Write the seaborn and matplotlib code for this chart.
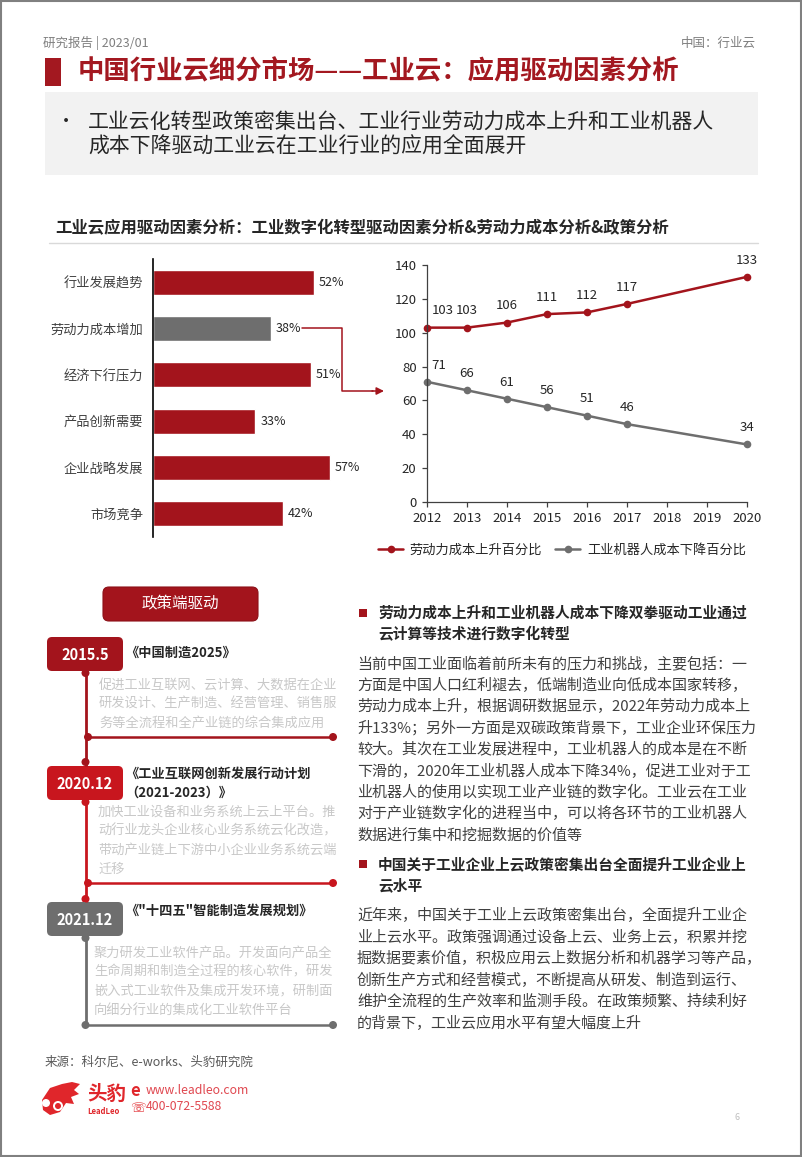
import matplotlib
matplotlib.use('Agg')
import matplotlib.pyplot as plt
import seaborn as sns
import pandas as pd
from matplotlib.patches import FancyBboxPatch, Rectangle, Circle, Polygon

sns.set_theme(style='white')
plt.rcParams['font.family'] = ['Noto Sans CJK SC', 'DejaVu Sans']
plt.rcParams['axes.unicode_minus'] = False

# ---------------- data ----------------
bar_categories = ['行业发展趋势', '劳动力成本增加', '经济下行压力', '产品创新需要', '企业战略发展', '市场竞争']
bar_values = [52, 38, 51, 33, 57, 42]

years = [2012, 2013, 2014, 2015, 2016, 2017, 2020]
labor_cost_rise = [103, 103, 106, 111, 112, 117, 133]
robot_cost_drop = [71, 66, 61, 56, 51, 46, 34]
series_names = ['劳动力成本上升百分比', '工业机器人成本下降百分比']
year_ticks = [2012, 2013, 2014, 2015, 2016, 2017, 2018, 2019, 2020]
value_ticks = [0, 20, 40, 60, 80, 100, 120, 140]

page_title = '中国行业云细分市场——工业云：应用驱动因素分析'
summary_lines = ['工业云化转型政策密集出台、工业行业劳动力成本上升和工业机器人',
                 '成本下降驱动工业云在工业行业的应用全面展开']
chart_title = '工业云应用驱动因素分析：工业数字化转型驱动因素分析&劳动力成本分析&政策分析'

policy_dates = ['2015.5', '2020.12', '2021.12']
policy_titles = [['《中国制造2025》'],
                 ['《工业互联网创新发展行动计划', '（2021-2023）》'],
                 ['《"十四五"智能制造发展规划》']]
policy_desc = [['促进工业互联网、云计算、大数据在企业', '研发设计、生产制造、经营管理、销售服', '务等全流程和全产业链的综合集成应用'],
               ['加快工业设备和业务系统上云上平台。推', '动行业龙头企业核心业务系统云化改造，', '带动产业链上下游中小企业业务系统云端', '迁移'],
               ['聚力研发工业软件产品。开发面向产品全', '生命周期和制造全过程的核心软件，研发', '嵌入式工业软件及集成开发环境，研制面', '向细分行业的集成化工业软件平台']]

heading1 = ['劳动力成本上升和工业机器人成本下降双拳驱动工业通过', '云计算等技术进行数字化转型']
body1 = ['当前中国工业面临着前所未有的压力和挑战，主要包括：一',
         '方面是中国人口红利褪去，低端制造业向低成本国家转移，',
         '劳动力成本上升，根据调研数据显示，2022年劳动力成本上',
         '升133%；另外一方面是双碳政策背景下，工业企业环保压力',
         '较大。其次在工业发展进程中，工业机器人的成本是在不断',
         '下滑的，2020年工业机器人成本下降34%，促进工业对于工',
         '业机器人的使用以实现工业产业链的数字化。工业云在工业',
         '对于产业链数字化的进程当中，可以将各环节的工业机器人',
         '数据进行集中和挖掘数据的价值等']
heading2 = ['中国关于工业企业上云政策密集出台全面提升工业企业上', '云水平']
body2 = ['近年来，中国关于工业上云政策密集出台，全面提升工业企',
         '业上云水平。政策强调通过设备上云、业务上云，积累并挖',
         '掘数据要素价值，积极应用云上数据分析和机器学习等产品，',
         '创新生产方式和经营模式，不断提高从研发、制造到运行、',
         '维护全流程的生产效率和监测手段。在政策频繁、持续利好',
         '的背景下，工业云应用水平有望大幅度上升']

# ---------------- style ----------------
W, H = 802, 1157
RED = '#A3141C'
RED_T = '#A31820'
RED2 = '#C8161E'
GRAY = '#6E6E6E'
LOGO = '#E0262B'
TXT = '#262626'
BODY = '#404040'
LIGHT = '#C8C8C8'

fig = plt.figure(figsize=(W / 100, H / 100), dpi=100)
fig.patch.set_facecolor('white')

ov = fig.add_axes([0, 0, 1, 1])
ov.set_xlim(0, W)
ov.set_ylim(H, 0)
ov.axis('off')


def txt(x, y, s, size, color=TXT, weight='normal', ha='left', **kw):
    ov.text(x, y, s, fontsize=size, color=color, fontweight=weight, ha=ha, va='center', **kw)


# border
ov.add_patch(Rectangle((0.7, 0.7), 800, 1155, fill=False, edgecolor='#808080', lw=1.5))

# header
txt(43, 43, '研究报告 | 2023/01', 9, color='#7f7f7f')
txt(756, 43, '中国：行业云', 9, color='#7f7f7f', ha='right')
ov.add_patch(Rectangle((45, 58), 16, 28, color=RED_T, lw=0))
txt(78, 72, page_title, 19, color=RED_T, weight='bold')
ov.add_patch(Rectangle((45, 92), 713, 83, color='#F2F2F2', lw=0))
txt(57, 122, '•', 13, color=TXT)
for i, line in enumerate(summary_lines):
    txt(88, 123 + i * 24, line, 15, color=TXT)

# chart title
txt(55, 228, chart_title, 11.8, color=TXT, weight='bold')
ov.plot([49, 758], [243, 243], color='#D9D9D9', lw=1)

# ---------------- bar chart ----------------
bax = fig.add_axes([153 / W, 1 - 537 / H, 217 / W, 278 / H])
bdf = pd.DataFrame({'cat': bar_categories, 'val': bar_values})
bar_colors = [GRAY if c == '劳动力成本增加' else RED for c in bar_categories]
sns.barplot(data=bdf, x='val', y='cat', hue='cat', palette=bar_colors, orient='h',
            width=0.54, saturation=1, legend=False, ax=bax)
bax.set_xlim(0, 70)
bax.set_ylim(5.5, -0.5)
bax.set_facecolor('none')
for s in ['top', 'right', 'bottom']:
    bax.spines[s].set_visible(False)
bax.spines['left'].set_color('#000000')
bax.spines['left'].set_linewidth(1.2)
bax.set_xticks([])
bax.set_xlabel('')
bax.set_ylabel('')
bax.tick_params(axis='y', length=0, pad=7, labelsize=9.5, labelcolor=BODY)
for c in bax.containers:
    bax.bar_label(c, fmt='%g%%', padding=3.5, fontsize=9, color=TXT)

# connector arrow
ov.plot([302, 342, 342, 373], [328, 328, 391, 391], color=RED, lw=1.1)
ov.annotate('', xy=(384, 391), xytext=(372, 391),
            arrowprops=dict(arrowstyle='-|>', color=RED, lw=1.1, mutation_scale=11,
                            shrinkA=0, shrinkB=0))

# ---------------- line chart ----------------
lax = fig.add_axes([427 / W, 1 - 502 / H, 320 / W, 237 / H])
ldf = pd.DataFrame({'year': years * 2,
                    'value': labor_cost_rise + robot_cost_drop,
                    'series': [series_names[0]] * len(years) + [series_names[1]] * len(years)})
sns.lineplot(data=ldf, x='year', y='value', hue='series', palette=[RED, GRAY],
             marker='o', markersize=5.5, markeredgewidth=0, linewidth=1.8,
             clip_on=False, ax=lax)
lax.set_xlim(2012, 2020)
lax.set_ylim(0, 140)
lax.set_xticks(year_ticks)
lax.set_yticks(value_ticks)
lax.set_xlabel('')
lax.set_ylabel('')
lax.set_facecolor('none')
for s in ['top', 'right']:
    lax.spines[s].set_visible(False)
for s in ['left', 'bottom']:
    lax.spines[s].set_color('#404040')
    lax.spines[s].set_linewidth(0.9)
lax.tick_params(axis='both', direction='out', length=3.5, width=0.9, color='#404040',
                labelsize=9.5, labelcolor=TXT, left=True, bottom=True)
lax.tick_params(axis='x', pad=4)
lax.tick_params(axis='y', pad=4)

for yr, v in zip(years, labor_cost_rise):
    dx = 11.5 if yr == 2012 else 0
    lax.annotate(str(v), (yr, v), xytext=(dx, 12), textcoords='offset points',
                 ha='center', va='center', fontsize=9.5, color=TXT)
for yr, v in zip(years, robot_cost_drop):
    dx = 8.6 if yr == 2012 else 0
    lax.annotate(str(v), (yr, v), xytext=(dx, 12), textcoords='offset points',
                 ha='center', va='center', fontsize=9.5, color=TXT)

handles, labels = lax.get_legend_handles_labels()
lax.legend(handles, labels, loc='center left', bbox_to_anchor=(378 / W, 1 - 550 / H),
           bbox_transform=fig.transFigure, ncol=2, frameon=False, fontsize=9.5,
           handlelength=1.9, handletextpad=0.5, columnspacing=1.0,
           borderaxespad=0, borderpad=0)

# ---------------- policy timeline ----------------
ov.add_patch(FancyBboxPatch((103, 587), 155, 34, boxstyle='round,pad=0,rounding_size=6',
                            facecolor=RED, edgecolor='#8C1017', lw=0.8))
txt(180.5, 604, '政策端驱动', 11.2, color='white', ha='center')

date_colors = [RED, RED2, GRAY]
box_tops = [637, 766, 902]
title_ys = [[653], [774, 793], [911]]
desc_x = [99, 98, 94]
desc_y0 = [685, 812, 953]
hline_y = [737, 883, 1025]

# vertical connectors
ov.plot([85.5, 85.5], [671, 766], color=RED, lw=2, solid_capstyle='butt')
ov.plot([85.5, 85.5], [799, 902], color=RED2, lw=2, solid_capstyle='butt')
ov.plot([85.5, 85.5], [935, 1025], color=GRAY, lw=2, solid_capstyle='butt')
for y, c in [(673, RED), (762, RED), (802, RED2), (899, RED2), (938, GRAY)]:
    ov.add_patch(Circle((85.5, y), 4, color=c, lw=0))

for i in range(3):
    c = date_colors[i]
    top = box_tops[i]
    ov.add_patch(FancyBboxPatch((47, top), 76, 34, boxstyle='round,pad=0,rounding_size=5',
                                facecolor=c, edgecolor='none'))
    txt(85, top + 18, policy_dates[i], 10.5, color='white', weight='bold', ha='center')
    for t, ty in zip(policy_titles[i], title_ys[i]):
        txt(125, ty, t, 9.5, color=TXT, weight='bold')
    for k, line in enumerate(policy_desc[i]):
        txt(desc_x[i], desc_y0[i] + k * 19.2, line, 9.5, color=LIGHT)
    x0 = 85.5 if i == 2 else 88
    ov.plot([x0, 333], [hline_y[i], hline_y[i]], color=c, lw=1.8)
    ov.add_patch(Circle((x0, hline_y[i]), 4, color=c, lw=0))
    ov.add_patch(Circle((333, hline_y[i]), 4, color=c, lw=0))

# ---------------- right text column ----------------
def section(y_head, heads, y_body, lines):
    ov.add_patch(Rectangle((359, y_head - 4), 8, 8, color=RED, lw=0))
    for k, h in enumerate(heads):
        txt(378, y_head + k * 21, h, 10.6, color=TXT, weight='bold')
    for k, line in enumerate(lines):
        txt(357, y_body + k * 21.4, line, 10.8, color=BODY)


section(613, heading1, 664, body1)
section(864, heading2, 916, body2)

# ---------------- footer ----------------
txt(45, 1062, '来源：科尔尼、e-works、头豹研究院', 9, color='#595959')
ov.add_patch(Polygon([(42, 1100), (50, 1088), (62, 1084), (72, 1082), (80, 1084), (74, 1090),
                      (79, 1094), (71, 1097), (74, 1104), (66, 1103), (60, 1112), (50, 1115),
                      (43, 1110)], closed=True, color=LOGO, lw=0))
ov.add_patch(Circle((46, 1103), 4, color='white', lw=0))
ov.add_patch(Circle((58, 1106), 5, color='white', lw=0))
ov.add_patch(Circle((58, 1106), 3, color=LOGO, lw=0))
txt(87, 1094, '头豹', 14, color=LOGO, weight='bold')
txt(87, 1111, 'LeadLeo', 5.5, color=LOGO, weight='bold', style='italic')
txt(130, 1091, 'e', 12, color=LOGO, weight='bold', style='italic')
txt(130, 1108, '☏', 9, color=LOGO, family=['DejaVu Sans'])
txt(146, 1091, 'www.leadleo.com', 8.8, color='#E04850')
txt(146, 1107, '400-072-5588', 8.8, color='#E04850')
txt(737, 1118, '6', 6.5, color='#BFBFBF', ha='center')

fig.savefig('out.png', dpi=100)
